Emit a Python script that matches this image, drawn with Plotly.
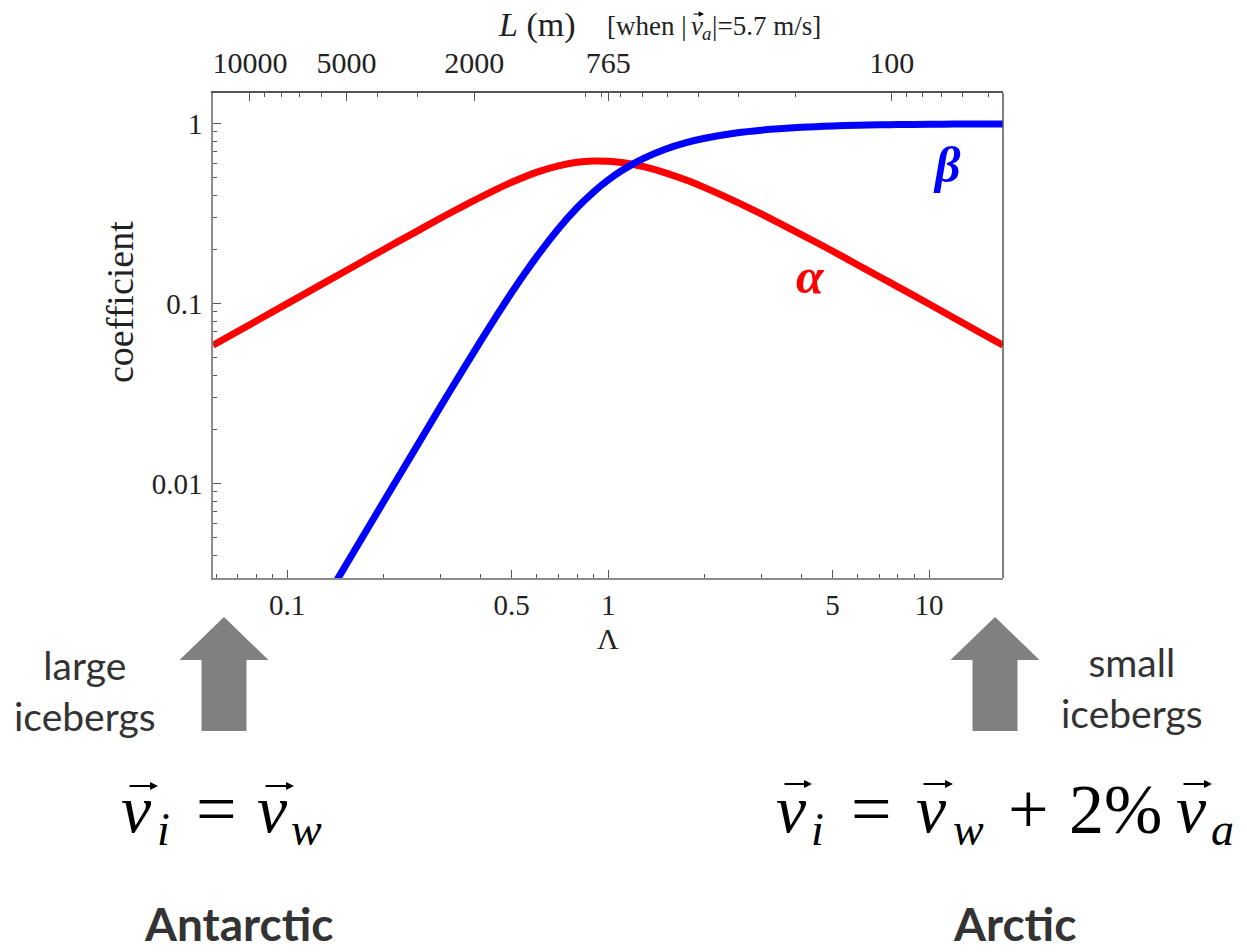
import math
import plotly.graph_objects as go

# ---------------- data ----------------
lam = [0.0587, 0.07, 0.1, 0.12, 0.15, 0.2, 0.25, 0.3, 0.35, 0.4, 0.45, 0.5, 0.6, 0.7, 0.8, 0.9,
       1.0, 1.1, 1.2, 1.3, 1.5, 1.75, 2, 2.5, 3, 4, 5, 6, 7, 8, 10, 12, 14, 17]
alpha = [0.0587, 0.070, 0.100, 0.120, 0.150, 0.200, 0.249, 0.298, 0.345, 0.390, 0.433, 0.472,
         0.538, 0.583, 0.610, 0.620, 0.618, 0.608, 0.593, 0.575, 0.535, 0.486, 0.441, 0.369,
         0.315, 0.242, 0.196, 0.164, 0.141, 0.124, 0.0995, 0.0830, 0.0712, 0.0587]
beta = [0.000202, 0.000343, 0.00100, 0.00173, 0.00337, 0.00798, 0.0155, 0.0267, 0.0419, 0.0617,
        0.0860, 0.115, 0.183, 0.261, 0.341, 0.417, 0.486, 0.547, 0.600, 0.646, 0.719, 0.784,
        0.829, 0.887, 0.920, 0.954, 0.971, 0.979, 0.985, 0.988, 0.9925, 0.995, 0.996, 0.997]

x_range = [0.0587, 17.0]
y_range = [0.00299, 1.48]

x_major = [0.1, 0.5, 1, 5, 10]
x_major_labels = ["0.1", "0.5", "1", "5", "10"]
x_minor = [0.06, 0.07, 0.08, 0.09, 0.2, 0.3, 0.4, 0.6, 0.7, 0.8, 0.9, 2, 3, 4, 6, 7, 8, 9]

y_major = [0.01, 0.1, 1]
y_major_labels = ["0.01", "0.1", "1"]
y_minor = [0.003, 0.004, 0.005, 0.006, 0.007, 0.008, 0.009,
           0.02, 0.03, 0.04, 0.05, 0.06, 0.07, 0.08, 0.09,
           0.2, 0.3, 0.4, 0.5, 0.6, 0.7, 0.8, 0.9]

L_scale = 765.0  # L (m) = 765 / Lambda  when |v_a| = 5.7 m/s
L_major = [10000, 5000, 2000, 765, 100]
L_major_labels = ["10000", "5000", "2000", "765", "100"]
L_minor = [9000, 8000, 7000, 6000, 4000, 3000, 900, 800, 700, 600, 500, 400, 300, 200,
           90, 80, 70, 60, 50]

# ---------------- layout geometry ----------------
W, H = 1247, 952
ML, MR, MT, MB = 213, 244, 93, 374
X0, X1 = ML, W - MR
Y0, Y1 = MT, H - MB


def px(x):
    return (x - X0) / (X1 - X0)


def py(y):
    return (Y1 - y) / (Y1 - Y0)


lx = [math.log10(v) for v in x_range]
ly = [math.log10(v) for v in y_range]

SERIF = "Liberation Serif, Times New Roman, serif"
MATH = "Liberation Serif, Times New Roman, serif"
SANS = "Lato, Open Sans, sans-serif"

fig = go.Figure()
fig.add_trace(go.Scatter(x=lam, y=alpha, mode="lines",
                         line=dict(color="#ff0000", width=7, shape="spline", smoothing=0.8),
                         showlegend=False, hoverinfo="skip", xaxis="x", yaxis="y"))
fig.add_trace(go.Scatter(x=lam, y=beta, mode="lines",
                         line=dict(color="#0000ff", width=7, shape="spline", smoothing=0.8),
                         showlegend=False, hoverinfo="skip", xaxis="x2", yaxis="y"))

axis_common = dict(type="log", showgrid=False, zeroline=False, ticks="inside", ticklen=8,
                   tickwidth=1)

fig.update_layout(
    width=W, height=H,
    margin=dict(l=ML, r=MR, t=MT, b=MB, pad=0),
    plot_bgcolor="white", paper_bgcolor="white",
    xaxis=dict(**axis_common, range=lx, tickmode="array", tickvals=x_major, ticktext=x_major_labels,
               tickfont=dict(family=SERIF, size=29, color="#222"),
               showline=True, linecolor="#8c8c8c", linewidth=1.5, tickcolor="#555",
               ticklabelstandoff=0,
               minor=dict(tickmode="array", tickvals=x_minor, ticks="inside", ticklen=4,
                          tickcolor="#555")),
    xaxis2=dict(**axis_common, range=lx, overlaying="x", side="top", tickmode="array",
                tickvals=[L_scale / v for v in L_major], ticktext=L_major_labels,
                tickfont=dict(family=SERIF, size=30, color="#222"),
                showline=True, linecolor="#555", linewidth=1.5, tickcolor="#555",
                ticklabelstandoff=6,
                minor=dict(tickmode="array", tickvals=[L_scale / v for v in L_minor],
                           ticks="inside", ticklen=4, tickcolor="#555")),
    yaxis=dict(**axis_common, range=ly, tickmode="array", tickvals=y_major, ticktext=y_major_labels,
               tickfont=dict(family=SERIF, size=29, color="#222"),
               showline=True, linecolor="#8c8c8c", linewidth=1.5, tickcolor="#555",
               ticklabelstandoff=3,
               minor=dict(tickmode="array", tickvals=y_minor, ticks="inside", ticklen=4,
                          tickcolor="#555")),
)

# right spine
fig.add_shape(type="line", xref="paper", yref="paper", x0=1, x1=1, y0=0, y1=1,
              line=dict(color="#555", width=1.5))


def arrow_path(xc, tip_y, head_base_y, bottom_y, head_half, shaft_half):
    pts = [(xc, tip_y), (xc + head_half, head_base_y), (xc + shaft_half, head_base_y),
           (xc + shaft_half, bottom_y), (xc - shaft_half, bottom_y), (xc - shaft_half, head_base_y),
           (xc - head_half, head_base_y)]
    return "M " + " L ".join(f"{px(a):.5f},{py(b):.5f}" for a, b in pts) + " Z"


for xc in (224, 995):
    fig.add_shape(type="path", xref="paper", yref="paper",
                  path=arrow_path(xc, 617, 660, 731, 44.5, 22.5),
                  fillcolor="#808080", line=dict(width=0))


def ann(text, x, y, size, family, color="#222", xanchor="center", yanchor="middle",
        style="normal", weight="normal", **kw):
    fig.add_annotation(text=text, x=px(x), y=py(y), xref="paper", yref="paper", showarrow=False,
                       xanchor=xanchor, yanchor=yanchor,
                       font=dict(family=family, size=size, color=color, style=style,
                                 weight=weight), **kw)


def vec_arrow(x_start, x_end, y, width=2, size=0.8):
    fig.add_annotation(text="", x=px(x_end), y=py(y), xref="paper", yref="paper",
                       showarrow=True, ax=-(x_end - x_start), ay=0, axref="pixel", ayref="pixel",
                       arrowhead=2, arrowsize=size, arrowwidth=width, arrowcolor="#000",
                       standoff=0, startstandoff=0)


IT = dict(style="italic")

# axis titles
ann("coefficient", 120, 302, 38, SERIF, textangle=-90)
ann("\u039b", 608, 638, 30, SERIF)
ann("<i>L</i> (m)", 537, 25, 34, SERIF)
# "[when |v_a|=5.7 m/s]"
ann("[when |", 689, 26, 27, SERIF, xanchor="right")
ann("v", 689, 26, 27, MATH, xanchor="left", **IT)
ann("a", 700, 33, 19, MATH, xanchor="left", **IT)
ann("|=5.7 m/s]", 710, 26, 27, SERIF, xanchor="left")
vec_arrow(692, 704, 14, width=1.2, size=0.9)

# curve labels
ann("\u03b1", 810, 276, 50, MATH, color="#ff0000", style="italic", weight="bold")
ann("\u03b2", 947, 165, 50, MATH, color="#0000ff", style="italic", weight="bold")

# side notes
ann("large<br>icebergs", 85, 690, 39, SANS, color="#333")
ann("small<br>icebergs", 1132, 687, 39, SANS, color="#333")

# equations, piece by piece
FS, FSS, YM, YS = 68, 46, 809, 829
BLACK = "#000"
# left:  v_i = v_w
ann("v", 119, YM, FS, MATH, BLACK, xanchor="left", **IT)
ann("i", 155, YS, FSS, MATH, BLACK, xanchor="left", **IT)
ann("=", 216, YM, 72, MATH, BLACK)
ann("v", 255, YM, FS, MATH, BLACK, xanchor="left", **IT)
ann("w", 289, YS, FSS, MATH, BLACK, xanchor="left", **IT)
vec_arrow(128, 158, 786)
vec_arrow(264, 294, 786)
# right: v_i = v_w + 2% v_a
ann("v", 774, YM, FS, MATH, BLACK, xanchor="left", **IT)
ann("i", 809, YS, FSS, MATH, BLACK, xanchor="left", **IT)
ann("=", 871, YM, 72, MATH, BLACK)
ann("v", 914, YM, FS, MATH, BLACK, xanchor="left", **IT)
ann("w", 951, YS, FSS, MATH, BLACK, xanchor="left", **IT)
ann("+", 1028, YM, 72, MATH, BLACK)
ann("2%", 1115, YM, 70, MATH, BLACK)
ann("v", 1174, YM, FS, MATH, BLACK, xanchor="left", **IT)
ann("a", 1209, YS, FSS, MATH, BLACK, xanchor="left", **IT)
vec_arrow(783, 812, 784)
vec_arrow(922, 953, 784)
vec_arrow(1182, 1212, 784)

# regions
ann("Antarctic", 238, 923, 46, SANS, color="#333", weight="bold")
ann("Arctic", 1014, 923, 46, SANS, color="#333", weight="bold")

fig.write_html("out.html")
